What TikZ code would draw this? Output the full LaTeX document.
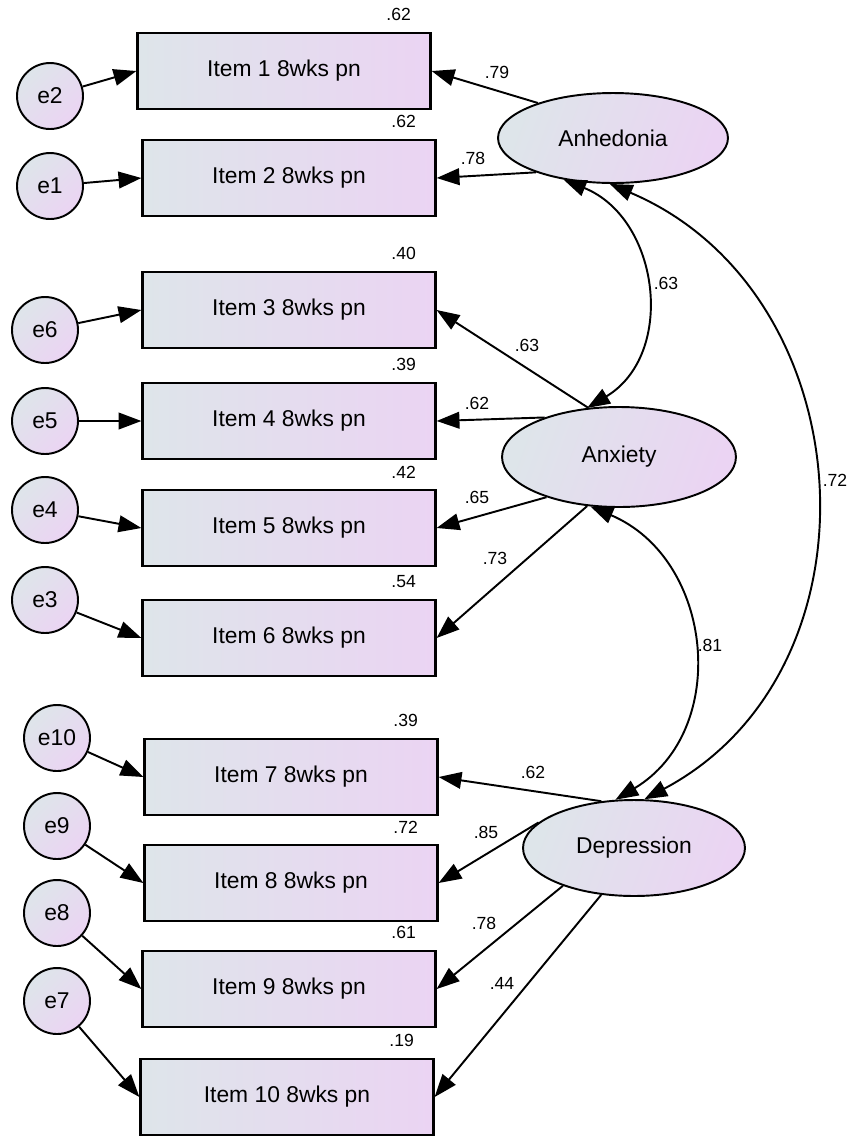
\documentclass[tikz,border=0pt]{standalone}
\usepackage{fontspec}
\setmainfont{Liberation Sans}
\usepackage{tikz}
\usetikzlibrary{arrows.meta,shapes.geometric}
\definecolor{shadeleft}{RGB}{222,229,234}
\definecolor{shaderight}{RGB}{235,212,243}

\begin{document}
\begin{tikzpicture}[x=0.02cm,y=0.02cm,>={Triangle[length=13pt,width=9.5pt]},line width=1.1pt,
    item node/.style={rectangle,draw,line width=1.3pt,minimum width=5.86cm,minimum height=1.52cm,inner sep=0pt,left color=shadeleft,right color=shaderight,font=\fontsize{13pt}{15pt}\selectfont},
    err node/.style={circle,draw,minimum size=1.32cm,inner sep=0pt,top color=shadeleft,bottom color=shaderight,shading angle=45,font=\fontsize{13pt}{15pt}\selectfont},
    lat node/.style={ellipse,draw,inner sep=0pt,top color=shadeleft,bottom color=shaderight,shading angle=70,font=\fontsize{13pt}{15pt}\selectfont},
    num/.style={inner sep=0pt,font=\fontsize{10pt}{12pt}\selectfont}]
    \useasboundingbox (0,0) rectangle (853,-1137);

    % observed items
    \node[item node] (it1) at (284,-71) {Item 1 8wks pn};
    \node[item node] (it2) at (289,-178) {Item 2 8wks pn};
    \node[item node] (it3) at (289,-310) {Item 3 8wks pn};
    \node[item node] (it4) at (289,-421) {Item 4 8wks pn};
    \node[item node] (it5) at (289,-528) {Item 5 8wks pn};
    \node[item node] (it6) at (289,-638) {Item 6 8wks pn};
    \node[item node] (it7) at (291,-777) {Item 7 8wks pn};
    \node[item node] (it8) at (291,-883) {Item 8 8wks pn};
    \node[item node] (it9) at (289,-989) {Item 9 8wks pn};
    \node[item node] (it10) at (287,-1097) {Item 10 8wks pn};

    % errors
    \node[err node] (e2) at (50,-96) {e2};
    \node[err node] (e1) at (50,-186) {e1};
    \node[err node] (e6) at (45,-330) {e6};
    \node[err node] (e5) at (45,-421) {e5};
    \node[err node] (e4) at (45,-510) {e4};
    \node[err node] (e3) at (45,-600) {e3};
    \node[err node] (e10) at (57,-738) {e10};
    \node[err node] (e9) at (57,-826) {e9};
    \node[err node] (e8) at (57,-913) {e8};
    \node[err node] (e7) at (57,-1001) {e7};

    % latent factors
    \node[lat node,minimum width=4.6cm,minimum height=1.8cm] (anh) at (613,-138) {Anhedonia};
    \node[lat node,minimum width=4.68cm,minimum height=2cm] (anx) at (619,-457) {Anxiety};
    \node[lat node,minimum width=4.44cm,minimum height=1.92cm] (dep) at (634,-848) {Depression};

    % squared multiple correlations
    \foreach \i/\v in {1/.62,2/.62,3/.40,4/.39,5/.42,6/.54,7/.39,8/.72,9/.61,10/.19}
      \node[num] (r\i) at ([shift={(-33,17)}]it\i.north east) {\v};

    \path[->]
    (e2) edge (it1.west)
    (e1) edge (it2.west)
    (e6) edge (it3.west)
    (e5) edge (it4.west)
    (e4) edge (it5.west)
    (e3) edge (it6.west)
    (e10) edge (it7.west)
    (e9) edge (it8.west)
    (e8) edge (it9.west)
    (e7) edge (it10.west)

    (anh.155) edge (it1.east)
    (anh.204) edge (it2.east)
    (anx.122) edge (it3.east)
    (anx.152) edge (it4.east)
    (anx.209) edge (it5.east)
    (anx.237) edge (it6.east)
    (dep.125) edge (it7.east)
    (dep.165) edge (it8.east)
    (dep.208) edge (it9.east)
    (dep.235) edge (it10.east);

    \path[<->]
    (anh.220) edge[out=-22,in=31,looseness=1.16] (anx.123)
    (anx.240) edge[out=-23,in=31,looseness=1.17] (dep.111)
    (anh.266) edge[out=-23,in=28,looseness=1.15] (dep.78);

    % loadings and correlations
    \node[num] (l1) at (497,-72) {.79};
    \node[num] (l2) at (473,-158) {.78};
    \node[num] (l3) at (527,-345) {.63};
    \node[num] (l4) at (477,-403) {.62};
    \node[num] (l5) at (477,-497) {.65};
    \node[num] (l6) at (495,-558) {.73};
    \node[num] (l7) at (533,-772) {.62};
    \node[num] (l8) at (486,-832) {.85};
    \node[num] (l9) at (484,-923) {.78};
    \node[num] (l10) at (502,-983) {.44};
    \node[num] (c1) at (666,-283) {.63};
    \node[num] (c2) at (710,-645) {.81};
    \node[num] (c3) at (835,-480) {.72};
  \end{tikzpicture}
\end{document}
